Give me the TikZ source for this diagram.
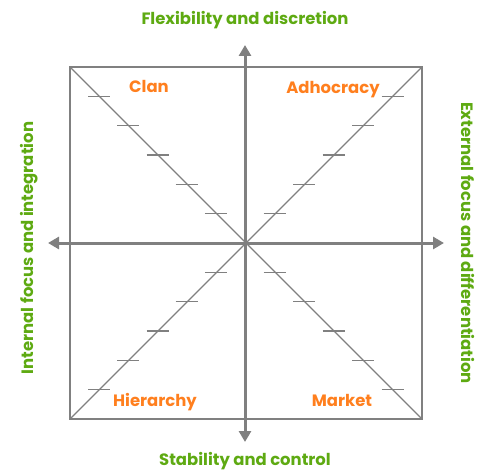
\documentclass[tikz,border=0pt]{standalone}
\usepackage{fontspec}
\setmainfont{Poppins}
\usetikzlibrary{positioning,calc,arrows.meta}
\definecolor{axisgray}{RGB}{128,128,128}
\definecolor{titlegreen}{RGB}{94,170,18}
\definecolor{quadorange}{RGB}{255,127,30}

\begin{document}
\begin{tikzpicture}[x=1bp, y=-1bp,
        axis/.style={draw=axisgray, line width=3bp, {Triangle[length=11bp,width=12bp]}-{Triangle[length=11bp,width=12bp]}},
        frame/.style={draw=axisgray, line width=2bp},
        diag/.style={draw=axisgray, line width=1.3bp},
        tickmark/.style={draw=axisgray, line width=1.6bp},
        title/.style={text=titlegreen, inner sep=0pt, font=\fontsize{16.5}{19}\selectfont\bfseries},
        quad/.style={text=quadorange, inner sep=0pt, anchor=base, font=\fontsize{16.5}{19}\selectfont\bfseries}]
        \useasboundingbox (0,0) rectangle (485,472);

        %-----Frame-----

        % corners and centre
        \coordinate (o) at (245,243);
        \coordinate (tl) at (70,67);
        \coordinate (tr) at (422,67);
        \coordinate (br) at (422,419);
        \coordinate (bl) at (70,419);

        % axis ends
        \coordinate (n) at (245,45);
        \coordinate (s) at (245,442);
        \coordinate (w) at (48,243);
        \coordinate (e) at (444,243);

        \draw[frame] (tl) -- (tr) -- (br) -- (bl) -- cycle;

        % Diagonals
        \draw[diag] (tl) -- (br);
        \draw[diag] (tr) -- (bl);

        % Tick marks on the diagonals
        \foreach \c in {tl,tr,br,bl}
            \foreach \k in {1,...,5}
                \draw[tickmark] ($(o)!\k/6!(\c)$) +(-11,0) -- +(11,0);

        % Axes
        \draw[axis] (w) -- (e);
        \draw[axis] (s) -- (n);

        %-----Axis Titles-----
        \node[title, above=20bp of n, anchor=base] (flex) {Flexibility and discretion};
        \node[title, below=23bp of s, anchor=base] (stab) {Stability and control};
        \node[title, left=15bp of w, anchor=base, yshift=-5bp, rotate=90] (internal) {Internal focus and integration};
        \node[title, right=17bp of e, anchor=base, rotate=-90] (external) {External focus and differentiation};

        %-----Quadrants-----
        \node[quad] (clan) at (149,93) {Clan};
        \node[quad] (adhocracy) at (333,94) {Adhocracy};
        \node[quad] (hierarchy) at (155,406) {Hierarchy};
        \node[quad] (market) at (342,406) {Market};
    \end{tikzpicture}
\end{document}
